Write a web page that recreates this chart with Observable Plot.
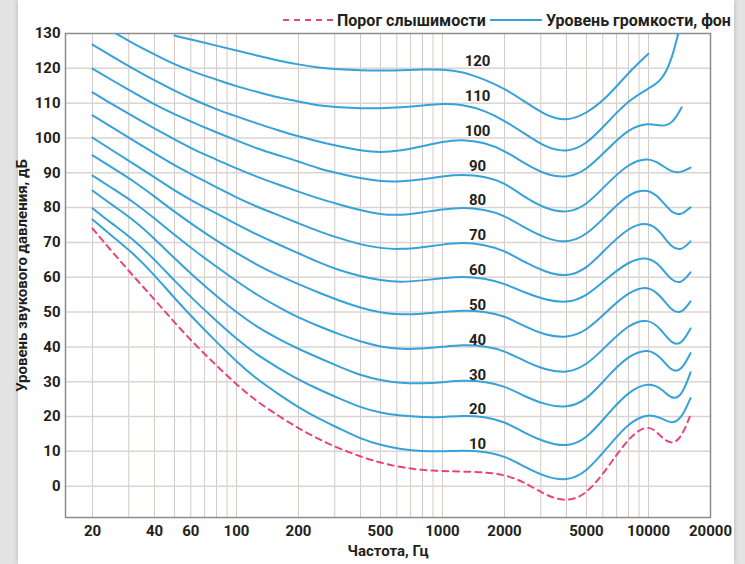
<!DOCTYPE html>
<html>
<head>
<meta charset="utf-8">
<script src="https://cdn.jsdelivr.net/npm/d3@7"></script>
<script src="https://cdn.jsdelivr.net/npm/@observablehq/plot@0.6"></script>
<style>
html,body{margin:0;padding:0;}
body{width:745px;height:564px;overflow:hidden;background:#e3e3e3;font-family:Roboto,"DejaVu Sans",sans-serif;position:relative;}
#card{position:absolute;left:18px;top:0;width:716px;height:564px;background:#fff;box-shadow:0 0 5px rgba(0,0,0,0.22);}
#wrap{position:absolute;left:0;top:0;width:745px;}
#legend{position:relative;height:28px;width:745px;font-weight:bold;font-size:16px;color:#231f20;}
.item{position:absolute;top:9px;display:flex;align-items:center;height:22px;}
.item svg{display:block;margin-right:4px;}
#chart svg{display:block;overflow:visible;}
</style>
</head>
<body>
<div id="card"></div>
<div id="wrap">
  <div id="legend">
    <div class="item" style="left:283px"><svg width="50" height="4"><line x1="0" y1="2" x2="50" y2="2" stroke="#e8437c" stroke-width="2" stroke-dasharray="6,5"/></svg><span>Порог слышимости</span></div>
    <div class="item" style="left:490px"><svg width="52" height="4"><line x1="0" y1="2" x2="52" y2="2" stroke="#35a2d9" stroke-width="2"/></svg><span>Уровень громкости, фон</span></div>
  </div>
  <div id="chart"></div>
</div>
<script>
// Frequencies (Hz) at which the curves were read
const freqs = [20, 25, 31.5, 40, 50, 63, 80, 100, 125, 160, 200, 250, 315, 400, 500, 630, 800, 1000,
  1250, 1600, 2000, 2500, 3150, 4000, 5000, 6300, 8000, 10000, 11500, 13000, 14500, 16000];

// Hearing threshold, dB
const threshold = [74.0, 67.2, 60.4, 53.6, 47.0, 40.6, 34.6, 29.2, 24.4, 20.2, 16.6, 13.5, 10.8, 8.5, 6.7, 5.4, 4.6, 4.3,
  4.2, 4.0, 3.3, 1.2, -2.6, -4.6, -2.4, 5.0, 14.0, 18.1, 14.1, 11.8, 14.1, 20.5];

// Equal-loudness contours, dB
const phon10 = [76.6, 71.7, 66.9, 60.6, 54.0, 47.6, 41.4, 35.8, 30.8, 26.4, 22.6, 19.4, 16.6, 13.6, 11.8, 10.6, 10.0, 10.0,
  10.3, 10.0, 8.7, 5.6, 2.7, 1.4, 4.0, 11.0, 18.3, 20.9, 19.6, 17.8, 19.5, 25.3];
const phon20 = [79.8, 75.3, 70.9, 65.1, 59.0, 53.1, 47.4, 42.3, 37.8, 33.9, 30.6, 27.8, 25.2, 22.6, 21.0, 20.2, 19.8, 19.8,
  20.3, 20.0, 18.6, 15.3, 12.6, 11.2, 13.5, 20.5, 27.3, 29.8, 28.2, 24.8, 25.8, 32.7];
const phon30 = [84.9, 80.7, 76.6, 71.1, 65.4, 59.9, 54.6, 49.9, 45.8, 42.3, 39.4, 36.9, 34.3, 31.8, 30.4, 29.6, 29.5, 29.8,
  30.4, 30.1, 28.8, 25.8, 23.4, 22.4, 24.6, 31.4, 37.6, 39.6, 37.0, 32.7, 33.3, 38.2];
const phon40 = [89.2, 85.5, 81.7, 76.9, 72.2, 67.5, 63.0, 58.9, 55.0, 51.4, 48.4, 46.0, 43.6, 41.5, 40.0, 39.3, 39.5, 40.0,
  40.6, 40.3, 38.9, 35.9, 33.4, 32.4, 34.6, 40.5, 46.5, 48.2, 45.1, 40.7, 40.7, 45.3];
const phon50 = [95.0, 91.4, 87.7, 83.2, 78.8, 74.6, 70.5, 67.0, 63.6, 60.5, 58.0, 55.6, 53.3, 51.2, 49.8, 49.2, 49.5, 50.0,
  50.5, 50.2, 49.0, 45.8, 43.4, 42.5, 44.5, 50.3, 55.8, 57.7, 54.5, 50.2, 49.6, 53.1];
const phon60 = [100.1, 96.4, 92.7, 88.7, 84.9, 81.5, 78.3, 75.2, 72.3, 69.4, 66.9, 64.3, 62.0, 60.3, 59.1, 58.5, 59.1, 59.7,
  60.3, 59.7, 58.2, 55.6, 53.5, 52.5, 54.5, 59.7, 64.6, 66.0, 63.1, 58.8, 58.2, 61.4];
const phon70 = [106.5, 103.0, 99.3, 95.6, 92.1, 89.0, 85.8, 82.9, 80.3, 77.8, 75.5, 73.2, 71.2, 69.4, 68.3, 68.0, 68.6, 69.4,
  70.0, 69.4, 67.7, 64.3, 61.5, 60.0, 62.3, 68.6, 74.3, 76.0, 72.9, 68.3, 67.7, 70.3];
const phon80 = [113.1, 109.6, 106.2, 102.7, 99.6, 96.4, 93.8, 91.2, 88.9, 86.6, 84.6, 82.6, 80.9, 79.2, 78.0, 77.8, 78.6, 79.5,
  80.1, 79.5, 77.8, 74.2, 71.2, 69.7, 72.0, 78.0, 84.1, 85.5, 82.4, 78.3, 77.8, 80.1];
const phon90 = [119.9, 116.5, 113.1, 109.6, 106.8, 104.2, 101.6, 99.3, 97.0, 95.0, 93.3, 91.2, 89.8, 88.4, 87.5, 87.5, 88.1, 89.0,
  89.5, 89.0, 87.2, 83.0, 79.7, 78.3, 80.6, 86.9, 92.7, 94.4, 92.4, 90.1, 90.1, 91.5];
const phon100 = [126.8, 123.4, 119.9, 116.5, 113.6, 110.8, 108.2, 106.2, 104.2, 102.2, 100.4, 99.0, 97.6, 96.4, 95.8, 96.4, 97.6, 99.0,
  99.6, 98.7, 96.4, 92.7, 89.5, 88.4, 90.7, 96.7, 102.7, 104.4, 103.3, 103.9, 108.8, null];
const phon110 = [null, 130.6, 127.1, 124.0, 121.1, 118.8, 116.8, 114.8, 113.3, 111.6, 110.5, 109.3, 108.8, 108.5, 108.5, 108.8, 109.3, 109.9,
  109.6, 107.9, 105.0, 101.3, 97.3, 95.8, 98.1, 104.4, 110.8, 114.2, 116.2, 122.2, 134.3, null];
const phon120 = [null, null, null, null, 129.4, 128.0, 126.5, 125.1, 123.7, 122.2, 121.1, 120.2, 119.7, 119.4, 119.4, 119.4, 119.7, 119.7,
  119.1, 116.8, 114.2, 110.5, 106.5, 104.7, 107.0, 111.6, 118.8, 124.2, null, null, null, null];

const phonLevels = [10, 20, 30, 40, 50, 60, 70, 80, 90, 100, 110, 120];
const contours = [phon10, phon20, phon30, phon40, phon50, phon60, phon70, phon80, phon90, phon100, phon110, phon120];
const labelFreq = 1480;

// Axis ticks and grid
const xTicks = [20, 40, 60, 100, 200, 500, 1000, 2000, 5000, 10000, 20000];
const yTicks = [0, 10, 20, 30, 40, 50, 60, 70, 80, 90, 100, 110, 120, 130];
const gridFreqs = [20, 30, 40, 50, 60, 70, 80, 90, 100, 200, 300, 400, 500, 600, 700, 800, 900, 1000,
  2000, 3000, 4000, 5000, 6000, 7000, 8000, 9000, 10000];
const gridLevels = [0, 10, 20, 30, 40, 50, 60, 70, 80, 90, 100, 110, 120];
const xLabel = "Частота, Гц";
const yLabel = "Уровень звукового давления, дБ";

const rows = [];
contours.forEach((arr, i) => arr.forEach((v, j) => {
  if (v != null) rows.push({f: freqs[j], v, phon: phonLevels[i]});
}));
const thr = threshold.map((v, j) => ({f: freqs[j], v})).filter(d => d.v != null);

const ink = "#231f20";
const chart = Plot.plot({
  width: 745,
  height: 536,
  marginLeft: 65,
  marginRight: 35,
  marginTop: 5,
  marginBottom: 47,
  style: {fontFamily: "Roboto, 'DejaVu Sans', sans-serif", fontSize: "15px", fontWeight: "bold", color: ink, background: "transparent", overflow: "visible"},
  x: {type: "log", domain: [14.79, 20000], axis: null},
  y: {domain: [-9, 130], ticks: yTicks, tickSize: 0, tickPadding: 5,
      label: yLabel, labelAnchor: "center", labelOffset: 49, labelArrow: "none"},
  marks: [
    Plot.gridX(gridFreqs, {stroke: "#d2cac6", strokeOpacity: 1, strokeWidth: 1}),
    Plot.gridY(gridLevels, {stroke: "#dbd4d1", strokeOpacity: 1, strokeWidth: 1.5}),
    Plot.frame({stroke: "#8c8c8c", strokeWidth: 1.5}),
    Plot.line(rows, {x: "f", y: "v", z: "phon", stroke: "#35a2d9", strokeWidth: 2, curve: "basis", clip: true}),
    Plot.line(thr, {x: "f", y: "v", stroke: "#e8437c", strokeWidth: 2, strokeDasharray: "6,5", curve: "basis"}),
    Plot.text(phonLevels, {x: () => labelFreq, y: d => d, text: d => String(d), dy: -7, fontSize: 15, fontWeight: "bold", fill: ink}),
    Plot.text(xTicks, {x: d => d, text: d => String(d), frameAnchor: "bottom", dy: 18, fontSize: 15, fontWeight: "bold", fill: ink}),
    Plot.text([xLabel], {text: d => d, frameAnchor: "bottom", dy: 38, fontSize: 15, fontWeight: "bold", fill: ink})
  ]
});
document.getElementById("chart").appendChild(chart);
</script>
</body>
</html>
